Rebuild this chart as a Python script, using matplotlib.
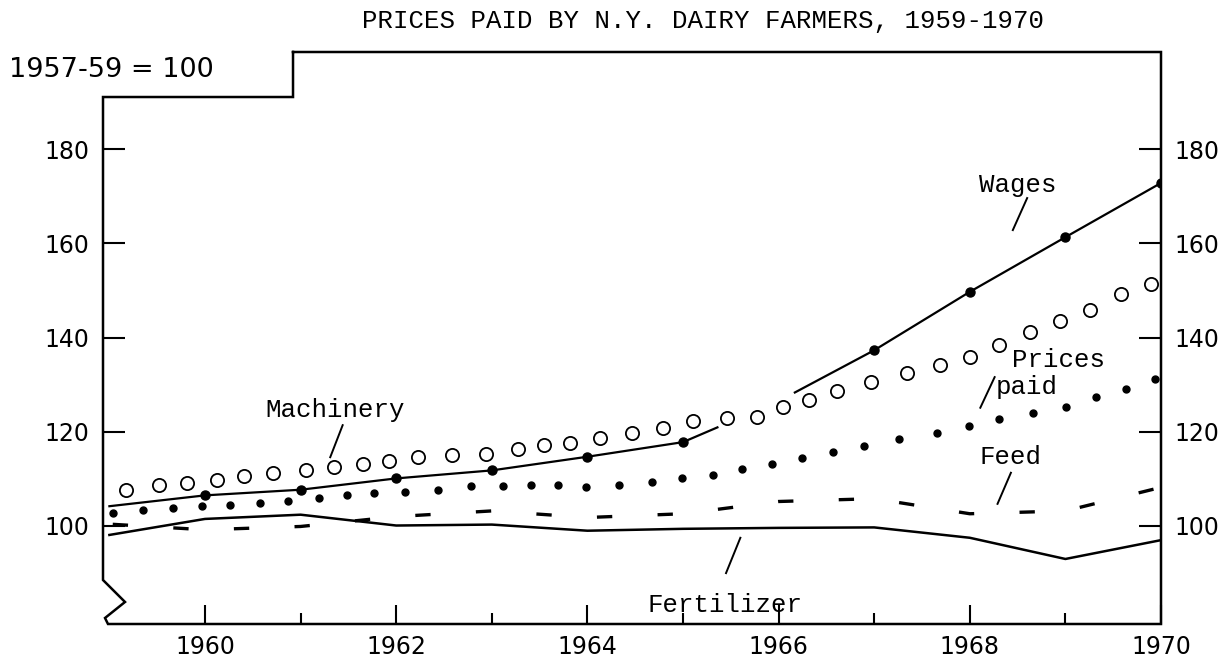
import numpy as np
import matplotlib.pyplot as plt
from matplotlib.ticker import FixedLocator

#%% data (index, 1957-59 = 100)
years = [1959, 1960, 1961, 1962, 1963, 1964, 1965, 1966, 1967, 1968, 1969, 1970]
wages = [104.2, 106.5, 107.7, 110.1, 111.8, 114.7, 117.8, 126.5, 137.3, 149.7, 161.3, 172.8]
fertilizer = [98.1, 101.5, 102.4, 100.1, 100.3, 99.0, 99.4, 99.6, 99.7, 97.5, 93.0, 97.0]
feed = [100.4, 99.2, 99.9, 102.0, 103.2, 101.8, 102.6, 105.2, 105.8, 102.6, 103.2, 108.2]

mach_x = [1959.17, 1959.52, 1959.81, 1960.13, 1960.41, 1960.71, 1961.06, 1961.35, 1961.65,
          1961.92, 1962.23, 1962.58, 1962.94, 1963.27, 1963.55, 1963.82, 1964.13, 1964.47,
          1964.79, 1965.10, 1965.46, 1965.77, 1966.05, 1966.32, 1966.61, 1966.97, 1967.34,
          1967.69, 1968.00, 1968.31, 1968.63, 1968.94, 1969.26, 1969.58, 1969.90]
mach_y = [107.6, 108.6, 109.2, 109.8, 110.7, 111.3, 111.9, 112.5, 113.1,
          113.7, 114.7, 115.1, 115.3, 116.3, 117.1, 117.7, 118.7, 119.7,
          120.8, 122.2, 123.0, 123.2, 125.3, 126.7, 128.6, 130.5, 132.4,
          134.2, 135.9, 138.4, 141.1, 143.6, 145.9, 149.3, 151.4]

pp_x = [1959.04, 1959.35, 1959.67, 1959.97, 1960.26, 1960.58, 1960.87, 1961.19, 1961.49,
        1961.77, 1962.09, 1962.44, 1962.78, 1963.12, 1963.41, 1963.69, 1963.99, 1964.33,
        1964.68, 1964.99, 1965.31, 1965.62, 1965.93, 1966.24, 1966.57, 1966.89, 1967.26,
        1967.66, 1967.99, 1968.31, 1968.66, 1969.01, 1969.32, 1969.63, 1969.94]
pp_y = [102.7, 103.3, 103.9, 104.3, 104.5, 104.9, 105.3, 105.9, 106.5,
        106.9, 107.3, 107.7, 108.5, 108.4, 108.6, 108.6, 108.3, 108.7,
        109.3, 110.1, 110.9, 112.2, 113.2, 114.4, 115.7, 116.9, 118.4,
        119.8, 121.3, 122.7, 123.9, 125.2, 127.3, 129.1, 131.2]

major_years = [1960, 1962, 1964, 1966, 1968, 1970]
minor_years = [1961, 1963, 1965, 1967, 1969]
yticks = [100, 120, 140, 160, 180]

title = 'PRICES PAID BY N.Y. DAIRY FARMERS, 1959-1970'
base_note = '1957-59 = 100'

#%% figure / axes
W, H = 1228, 659
fig = plt.figure(figsize=(W / 100, H / 100), dpi=100, facecolor='white')
# plot box in pixels: x 103..1161, y 52..624 (from top)
ax = fig.add_axes([103 / W, (H - 624) / H, (1161 - 103) / W, (624 - 52) / H])
ax.set_xlim(1958.933, 1970.0)
ax.set_ylim(79.2, 200.6)
for s in ax.spines.values():
    s.set_visible(False)

mono = 'Liberation Mono'
num = 'DejaVu Sans'
k = 'black'

# frame drawn by hand (broken left axis, stepped top)
fx = [0.1796, 1.0, 1.0, 0.0047, 0.0019, 0.0208, 0.0, 0.0, 0.1796, 0.1796]
fy = [1.0, 1.0, 0.0, 0.0, 0.0105, 0.0385, 0.0769, 0.9213, 0.9213, 1.0]
ax.plot(fx, fy, color=k, lw=1.8, transform=ax.transAxes, clip_on=False,
        solid_joinstyle='miter')

#%% series
# wages: solid line with dots, broken where it crosses the machinery circles
gap0, gap1 = 1965.36, 1966.17
yrs = np.array(years, dtype=float)
wg = np.array(wages)
m1 = yrs < gap0
m2 = yrs > gap1
ax.plot(np.r_[yrs[m1], gap0], np.r_[wg[m1], np.interp(gap0, yrs, wg)], color=k, lw=1.6)
ax.plot(np.r_[gap1, yrs[m2]], np.r_[np.interp(gap1, yrs, wg), wg[m2]], color=k, lw=1.6)
ax.plot([y for y in years[1:] if y != 1966], [w for y, w in zip(years[1:], wages[1:]) if y != 1966],
        'o', color=k, ms=6.5, ls='none')

ax.plot(years, fertilizer, color=k, lw=1.8)
ax.plot(years, feed, color=k, lw=2.4, ls=(17.2, (4.6, 13.6)), dash_capstyle='butt')

ax.plot(mach_x, mach_y, 'o', ms=9.5, mfc='none', mec=k, mew=1.3, ls='none')
ax.plot(pp_x, pp_y, 'o', ms=5.0, color=k, ls='none')

#%% ticks
ax.xaxis.set_major_locator(FixedLocator(major_years))
ax.xaxis.set_minor_locator(FixedLocator(minor_years))
ax.yaxis.set_major_locator(FixedLocator(yticks))
ax.tick_params(axis='x', which='major', direction='in', length=14, width=1.5, pad=8,
               labelsize=17, colors=k)
ax.tick_params(axis='x', which='minor', direction='in', length=8, width=1.5)
ax.tick_params(axis='y', which='major', direction='in', length=16, width=1.5,
               left=True, right=True, labelleft=True, labelright=True, pad=10,
               labelsize=17)
for lab in ax.get_xticklabels() + ax.get_yticklabels():
    lab.set_fontfamily(num)
ax.set_xticklabels([str(y) for y in major_years])
ax.set_yticklabels([str(v) for v in yticks])

#%% labels with leader lines
fs = 18.5
ax.text(1968.50, 172.4, 'Wages', family=mono, fontsize=fs, ha='center', va='center')
ax.plot([1968.60, 1968.45], [169.6, 162.8], color=k, lw=1.4)

ax.text(1961.36, 124.6, 'Machinery', family=mono, fontsize=fs, ha='center', va='center')
ax.plot([1961.44, 1961.31], [121.4, 114.6], color=k, lw=1.4)

ax.text(1968.93, 135.2, 'Prices', family=mono, fontsize=fs, ha='center', va='center')
ax.text(1968.60, 129.4, 'paid', family=mono, fontsize=fs, ha='center', va='center')
ax.plot([1968.26, 1968.11], [131.6, 125.1], color=k, lw=1.4)

ax.text(1968.43, 114.6, 'Feed', family=mono, fontsize=fs, ha='center', va='center')
ax.plot([1968.43, 1968.29], [111.3, 104.7], color=k, lw=1.4)

ax.text(1965.44, 83.2, 'Fertilizer', family=mono, fontsize=fs, ha='center', va='center')
ax.plot([1965.60, 1965.45], [97.5, 90.0], color=k, lw=1.4)

fig.text(703 / W, 1 - 21 / H, title, family=mono, fontsize=fs, ha='center', va='center')
fig.text(9 / W, 1 - 70 / H, base_note, family=num, fontsize=19.5, ha='left', va='center')

fig.savefig('out.png', dpi=100, facecolor='white')
